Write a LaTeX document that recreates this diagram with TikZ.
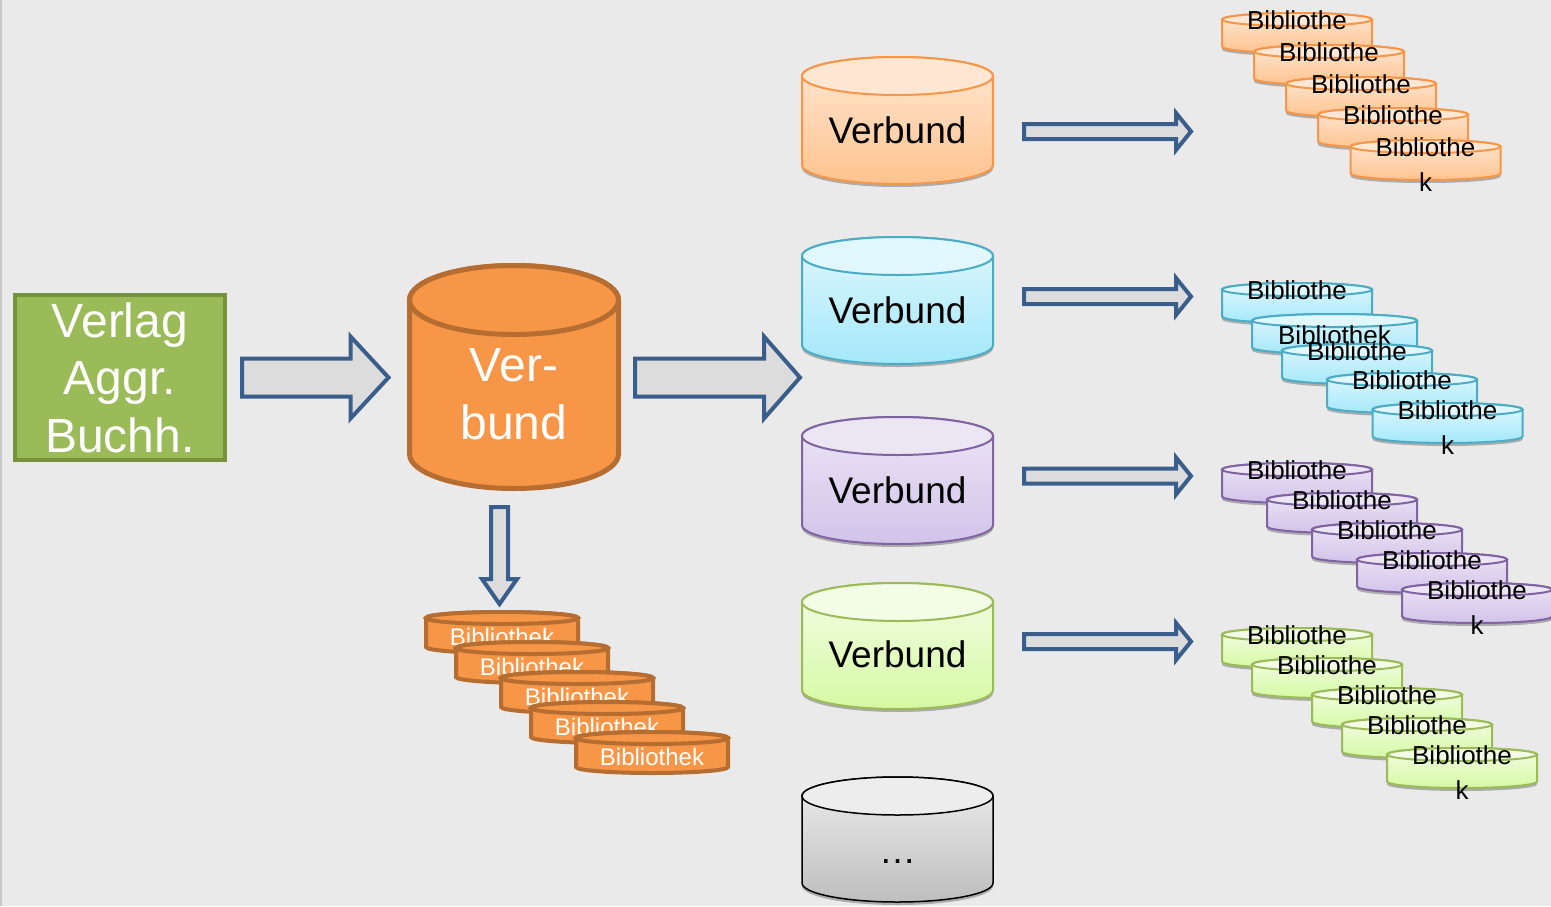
\documentclass[tikz,border=0pt]{standalone}
\usepackage{fontspec}
\setmainfont{Liberation Sans}
\usetikzlibrary{calc}
\definecolor{bgc}{HTML}{EAEAEA}
\definecolor{arrfill}{HTML}{DCDCDC}
\definecolor{arrline}{HTML}{3A5E8C}
\definecolor{vgreen}{HTML}{9BBB59}
\definecolor{vgreenD}{HTML}{76923C}
\definecolor{bigor}{HTML}{F79646}
\definecolor{bigorD}{HTML}{B66D31}
\definecolor{oB}{HTML}{F79646}\definecolor{oT}{HTML}{FFE7D4}\definecolor{oU}{HTML}{FFC38E}
\definecolor{cB}{HTML}{4BACC6}\definecolor{cT}{HTML}{E0F7FD}\definecolor{cU}{HTML}{A4E8FA}
\definecolor{pB}{HTML}{8064A2}\definecolor{pT}{HTML}{ECE6F4}\definecolor{pU}{HTML}{D2C3EA}
\definecolor{gB}{HTML}{9BBB59}\definecolor{gT}{HTML}{F3FDE6}\definecolor{gU}{HTML}{D6F9A3}
\definecolor{kB}{HTML}{000000}\definecolor{kT}{HTML}{EDEDED}\definecolor{kU}{HTML}{BEBEBE}
\tikzset{
 blockarrow/.style={draw=arrline, fill=arrfill, line width=4pt, line join=miter, miter limit=10},
 frame/.style={inner sep=0pt, outer sep=0pt},
 shadowon/.style={fill=black!33},
 shadowoff/.style={},
 lightbody/.style={draw=#1B, line width=2pt, top color=#1T, bottom color=#1U},
 lighttop/.style={draw=#1B, line width=2pt, fill=#1T},
 flatbody/.style={draw=bigorD, line width=#1, fill=bigor},
 stxtone/.style={inner sep=0pt, anchor=base, font=\fontsize{26}{35}\selectfont},
 stxt/.style={inner sep=0pt, anchor=base, align=center, yshift=-35pt, font=\fontsize{26}{35}\selectfont},
 btxt/.style={inner sep=0pt, anchor=base, text=white, font=\fontsize{24}{28}\selectfont},
 vtxt/.style={inner sep=0pt, anchor=base, font=\fontsize{37}{44}\selectfont},
}
% #1 name #2 cx #3 top-ellipse y #4 bottom-ellipse y #5 rx #6 ry #7 body #8 top #9 shadow
\newcommand\cyl[9]{%
 \path[#9,yshift=-3pt] (#2-#5,#3) -- (#2-#5,#4) arc[start angle=180,end angle=360,x radius=#5pt,y radius=#6pt] -- (#2+#5,#3) arc[start angle=0,end angle=180,x radius=#5pt,y radius=#6pt] -- cycle;
 \path[#7] (#2-#5,#3) -- (#2-#5,#4) arc[start angle=180,end angle=360,x radius=#5pt,y radius=#6pt] -- (#2+#5,#3) arc[start angle=0,end angle=180,x radius=#5pt,y radius=#6pt] -- cycle;
 \path[#8] (#2,#3) ellipse[x radius=#5pt,y radius=#6pt];
 \node[frame, minimum width={2*#5}, minimum height={#4-#3+2*#6}] (#1) at (#2,{(#3+#4)/2}) {};
}
% horizontal block arrow: #1 start, #2 tip, #3 shaft half, #4 head half, #5 head length
\newcommand\rarrow[5]{%
 \draw[blockarrow] ($(#1)+(0,-#3)$) -- ($(#2)+(-#5,-#3)$) -- ($(#2)+(-#5,-#4)$) -- (#2) -- ($(#2)+(-#5,#4)$) -- ($(#2)+(-#5,#3)$) -- ($(#1)+(0,#3)$) -- cycle;}
% downward block arrow
\newcommand\darrow[5]{%
 \draw[blockarrow] ($(#1)+(-#3,0)$) -- ($(#2)+(-#3,-#5)$) -- ($(#2)+(-#4,-#5)$) -- (#2) -- ($(#2)+(#4,-#5)$) -- ($(#2)+(#3,-#5)$) -- ($(#1)+(#3,0)$) -- cycle;}
\begin{document}
\begin{tikzpicture}[x=1pt,y=-1pt]
\useasboundingbox (0,0) rectangle (1551,906);
\fill[bgc] (0,0) rectangle (1551,906);
\draw[black!22, line width=1.5pt] (0.75,0) -- (0.75,906);

% source box
\node[draw=vgreenD, fill=vgreen, line width=4pt, minimum width=210pt, minimum height=165pt, inner sep=0pt,
      text=white, align=center, font=\fontsize{48}{57.5}\selectfont] (verlag) at (120,377.5) {Verlag\\Aggr.\\Buchh.};

% central Verbund
\cyl{vb}{514}{300}{454}{104.5}{34.5}{flatbody=5pt}{flatbody=5pt}{shadowoff}
\node[inner sep=0pt, text=white, align=center, font=\fontsize{48}{58}\selectfont] (vbt) at (514,393.8) {Ver-\\bund};

% Bibliothek stack under central Verbund
\cyl{b1}{502}{618}{647}{76}{6}{flatbody=4pt}{flatbody=4pt}{shadowoff}
\node[btxt] (b1t) at (502,645) {Bibliothek};
\cyl{b2}{532}{648}{677}{76}{6}{flatbody=4pt}{flatbody=4pt}{shadowoff}
\node[btxt] (b2t) at (532,675) {Bibliothek};
\cyl{b3}{577}{678}{707}{76}{6}{flatbody=4pt}{flatbody=4pt}{shadowoff}
\node[btxt] (b3t) at (577,705) {Bibliothek};
\cyl{b4}{607}{708}{737}{76}{6}{flatbody=4pt}{flatbody=4pt}{shadowoff}
\node[btxt] (b4t) at (607,735) {Bibliothek};
\cyl{b5}{652}{738}{767}{76}{6}{flatbody=4pt}{flatbody=4pt}{shadowoff}
\node[btxt] (b5t) at (652,765) {Bibliothek};

% right Verbund column
\cyl{v1}{897.5}{76}{165}{95.5}{19}{lightbody=o}{lighttop=o}{shadowon}
\node[vtxt] (v1t) at (897.5,143) {Verbund};
\cyl{v2}{897.5}{256}{345}{95.5}{19}{lightbody=c}{lighttop=c}{shadowon}
\node[vtxt] (v2t) at (897.5,323) {Verbund};
\cyl{v3}{897.5}{436}{525}{95.5}{19}{lightbody=p}{lighttop=p}{shadowon}
\node[vtxt] (v3t) at (897.5,503) {Verbund};
\cyl{v4}{897.5}{602}{690}{95.5}{19}{lightbody=g}{lighttop=g}{shadowon}
\node[vtxt] (v4t) at (897.5,667) {Verbund};
\cyl{v5}{897.5}{796}{883}{95.5}{19}{lightbody=k, line width=1.5pt}{lighttop=k, line width=1.5pt}{shadowon}
\node[vtxt] (v5t) at (897.5,863) {…};

% orange stack
\cyl{o1}{1297}{19.5}{46.5}{75}{6.5}{lightbody=o}{lighttop=o}{shadowon}
\node[stxt] (o1t) at (1297,29) {Bibliothe\\k};
\cyl{o2}{1329}{51.5}{78.5}{75}{6.5}{lightbody=o}{lighttop=o}{shadowon}
\node[stxt] (o2t) at (1329,61) {Bibliothe\\k};
\cyl{o3}{1361}{83.5}{110.5}{75}{6.5}{lightbody=o}{lighttop=o}{shadowon}
\node[stxt] (o3t) at (1361,93) {Bibliothe\\k};
\cyl{o4}{1393}{114.5}{141.5}{75}{6.5}{lightbody=o}{lighttop=o}{shadowon}
\node[stxt] (o4t) at (1393,124) {Bibliothe\\k};
\cyl{o5}{1425.5}{146.5}{173.5}{75}{6.5}{lightbody=o}{lighttop=o}{shadowon}
\node[stxt] (o5t) at (1425.5,156) {Bibliothe\\k};

% cyan stack
\cyl{c1}{1297}{289.5}{316.5}{75}{6.5}{lightbody=c}{lighttop=c}{shadowon}
\node[stxt] (c1t) at (1297,299) {Bibliothe\\k};
\cyl{c2}{1334.5}{320.5}{347.5}{82.5}{6.5}{lightbody=c}{lighttop=c}{shadowon}
\node[stxtone] (c2t) at (1334.5,344) {Bibliothek};
\cyl{c3}{1357}{350.5}{377.5}{75}{6.5}{lightbody=c}{lighttop=c}{shadowon}
\node[stxt] (c3t) at (1357,360) {Bibliothe\\k};
\cyl{c4}{1402}{379.5}{406.5}{75}{6.5}{lightbody=c}{lighttop=c}{shadowon}
\node[stxt] (c4t) at (1402,389) {Bibliothe\\k};
\cyl{c5}{1447.5}{409.5}{436.5}{75}{6.5}{lightbody=c}{lighttop=c}{shadowon}
\node[stxt] (c5t) at (1447.5,419) {Bibliothe\\k};

% purple stack
\cyl{p1}{1297}{469.5}{496.5}{75}{6.5}{lightbody=p}{lighttop=p}{shadowon}
\node[stxt] (p1t) at (1297,479) {Bibliothe\\k};
\cyl{p2}{1342}{499.5}{526.5}{75}{6.5}{lightbody=p}{lighttop=p}{shadowon}
\node[stxt] (p2t) at (1342,509) {Bibliothe\\k};
\cyl{p3}{1387}{529.5}{556.5}{75}{6.5}{lightbody=p}{lighttop=p}{shadowon}
\node[stxt] (p3t) at (1387,539) {Bibliothe\\k};
\cyl{p4}{1432}{559.5}{586.5}{75}{6.5}{lightbody=p}{lighttop=p}{shadowon}
\node[stxt] (p4t) at (1432,569) {Bibliothe\\k};
\cyl{p5}{1477}{589.5}{616.5}{75}{6.5}{lightbody=p}{lighttop=p}{shadowon}
\node[stxt] (p5t) at (1477,599) {Bibliothe\\k};

% green stack
\cyl{g1}{1297}{634.5}{661.5}{75}{6.5}{lightbody=g}{lighttop=g}{shadowon}
\node[stxt] (g1t) at (1297,644) {Bibliothe\\k};
\cyl{g2}{1327}{664.5}{691.5}{75}{6.5}{lightbody=g}{lighttop=g}{shadowon}
\node[stxt] (g2t) at (1327,674) {Bibliothe\\k};
\cyl{g3}{1387}{694.5}{721.5}{75}{6.5}{lightbody=g}{lighttop=g}{shadowon}
\node[stxt] (g3t) at (1387,704) {Bibliothe\\k};
\cyl{g4}{1417}{724.5}{751.5}{75}{6.5}{lightbody=g}{lighttop=g}{shadowon}
\node[stxt] (g4t) at (1417,734) {Bibliothe\\k};
\cyl{g5}{1462}{754.5}{781.5}{75}{6.5}{lightbody=g}{lighttop=g}{shadowon}
\node[stxt] (g5t) at (1462,764) {Bibliothe\\k};

% block arrows
\coordinate (a1s) at ($(verlag.east)+(15,0)$);
\coordinate (a1e) at ($(vb.west |- a1s)+(-21,0)$);
\rarrow{a1s}{a1e}{19}{41}{38}
\coordinate (a2s) at ($(vb.east |- a1s)+(16.5,0)$);
\coordinate (a2e) at ($(v2.west |- a1s)+(-2,0)$);
\rarrow{a2s}{a2e}{19}{41}{36}
\coordinate (ds) at ($(vb.south)+(-14.5,18.5)$);
\coordinate (de) at ($(ds |- b1.north)+(0,-8)$);
\darrow{ds}{de}{8.5}{17.5}{25}

\coordinate (r1s) at ($(v1.east)+(31,11)$);
\coordinate (r1e) at ($(o1.west |- r1s)+(-31,0)$);
\rarrow{r1s}{r1e}{7.5}{18.5}{15}
\coordinate (r2s) at ($(v2.east)+(31,-4)$);
\coordinate (r2e) at ($(c1.west |- r2s)+(-31,0)$);
\rarrow{r2s}{r2e}{7.5}{18.5}{15}
\coordinate (r3s) at ($(v3.east)+(31,-4.5)$);
\coordinate (r3e) at ($(p1.west |- r3s)+(-31,0)$);
\rarrow{r3s}{r3e}{7.5}{18.5}{15}
\coordinate (r4s) at ($(v4.east)+(31,-4.5)$);
\coordinate (r4e) at ($(g1.west |- r4s)+(-31,0)$);
\rarrow{r4s}{r4e}{7.5}{18.5}{15}
\end{tikzpicture}
\end{document}
